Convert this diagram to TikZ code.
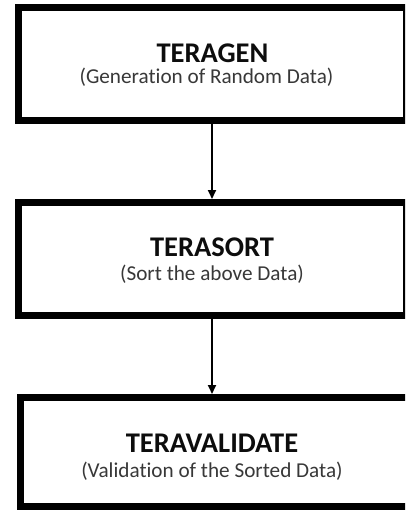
\documentclass[tikz,border=0pt]{standalone}
\usepackage{fontspec}
\setmainfont[Ligatures={NoCommon}]{Carlito}
\usetikzlibrary{arrows.meta}
\begin{document}
\begin{tikzpicture}[x=1pt,y=-1pt,
  stagebox/.style={draw=black,line width=7pt,inner sep=0pt,fill=white},
  ttl/.style={anchor=base,font=\bfseries\fontsize{28.5}{32}\selectfont,text=black!95,inner sep=0pt},
  sub/.style={anchor=base,font=\fontsize{21.2}{24}\selectfont,text=black!78,inner sep=0pt},
  arr/.style={line width=2pt,-{Triangle[length=9pt,width=8pt]}}]
\useasboundingbox (0,0) rectangle (405,513);
\clip (0,0) rectangle (405,513);
\fill[white] (0,0) rectangle (405,513);
\node[stagebox,minimum width=387.5pt,minimum height=113pt] (b1) at (212.25,64) {};
\node[stagebox,minimum width=387.5pt,minimum height=113pt] (b2) at (212.25,259) {};
\node[stagebox,minimum width=391.5pt,minimum height=109pt] (b3) at (216.25,452) {};
\node[ttl] (t1) at (212.5,63) {TERAGEN};
\node[sub] (s1) at (206.5,84) {(Generation of Random Data)};
\node[ttl] (t2) at (212,256) {TERASORT};
\node[sub] (s2) at (212,280) {(Sort the above Data)};
\node[ttl] (t3) at (212,452) {TERAVALIDATE};
\node[sub] (s3) at (212,477) {(Validation of the Sorted Data)};
\coordinate (ax) at (212,0);
\draw[arr] (b1.south -| ax) -- (b2.north -| ax);
\draw[arr] (b2.south -| ax) -- (b3.north -| ax);
\end{tikzpicture}
\end{document}
